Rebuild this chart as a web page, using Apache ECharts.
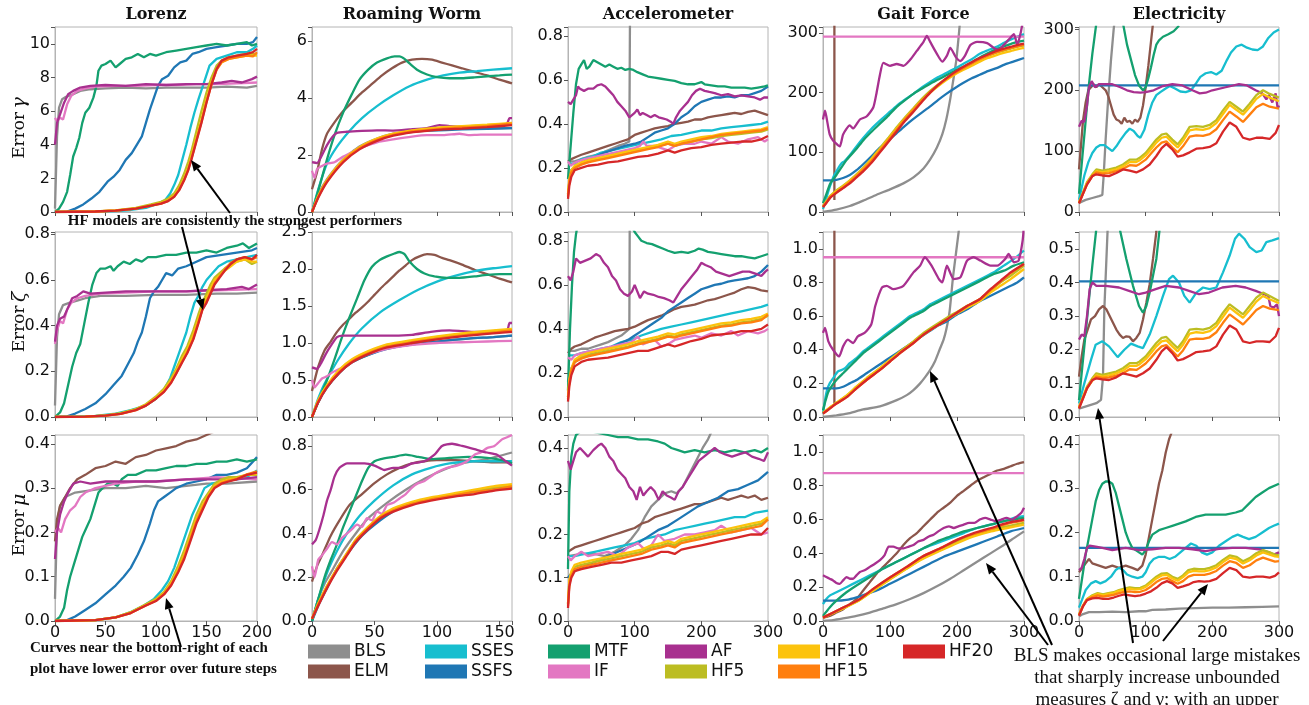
<!DOCTYPE html>
<html>
<head>
<meta charset="utf-8">
<title>Error over future steps</title>
<script src="https://cdn.jsdelivr.net/npm/echarts@6.0.0/dist/echarts.min.js"></script>
<style>
html, body { margin: 0; padding: 0; background: #fff; }
#chart { width: 1309px; height: 705px; }
</style>
</head>
<body>
<div id="chart"></div>
<script>
var models = ['BLS', 'ELM', 'SSES', 'SSFS', 'MTF', 'IF', 'AF', 'HF5', 'HF10', 'HF15', 'HF20'];
var modelColors = ['#8e8e8e', '#8c564b', '#17becf', '#1f77b4', '#14a06f', '#e377c2', '#a8308f', '#bcbd22', '#fcc30d', '#ff7f0e', '#d62728'];
var datasetNames = ['Lorenz', 'Roaming Worm', 'Accelerometer', 'Gait Force', 'Electricity'];
var measureNames = ['γ', 'ζ', 'μ'];
var xMax = [200, 160, 300, 300, 300];
var xStep = [50, 50, 100, 100, 100];
var yMax = [[11, 6.5, 0.84, 310, 304], [0.81, 2.5, 0.84, 1.1, 0.55], [0.42, 0.85, 0.43, 1.1, 0.42]];
var yStep = [[2, 2, 0.2, 100, 100], [0.2, 0.5, 0.2, 0.2, 0.1], [0.1, 0.2, 0.1, 0.2, 0.1]];
var yDigits = [[0, 0, 1, 0, 0], [1, 1, 1, 1, 1], [1, 1, 1, 1, 1]];

// ---------- Lorenz ----------
var lorenzGamma = {
  BLS: [[0,0.2],[2,4.5],[4,6.2],[7,6.7],[11,6.85],[18,7.0],[25,7.2],[35,7.3],[50,7.35],[70,7.4],[90,7.35],[110,7.4],[130,7.4],[150,7.4],[170,7.45],[190,7.4],[200,7.5]],
  SSES: [[0,0],[40,0.02],[60,0.06],[75,0.12],[90,0.25],[100,0.45],[109,0.7],[114,1.1],[118,1.6],[122,2.2],[126,3.1],[130,4.0],[134,5.0],[138,5.9],[142,6.7],[147,7.6],[153,8.7],[160,9.1],[170,9.3],[180,9.5],[190,9.5],[196,9.7],[200,9.9]],
  SSFS: [[0,0],[12,0.02],[20,0.2],[28,0.45],[36,0.8],[44,1.2],[52,1.8],[58,2.1],[64,2.5],[70,3.1],[76,3.5],[82,4.1],[86,4.5],[90,5.3],[94,6.1],[98,6.8],[102,7.5],[106,7.9],[112,8.1],[118,8.6],[124,8.9],[130,9.0],[136,9.4],[142,9.5],[150,9.7],[160,9.8],[170,9.9],[180,10.0],[190,10.0],[196,10.1],[200,10.4]],
  MTF: [[0,0],[4,0.2],[8,0.6],[12,1.2],[15,2.2],[18,3.3],[21,3.8],[24,4.4],[27,5.3],[30,5.9],[34,6.2],[38,6.8],[41,7.5],[43,8.4],[46,8.7],[50,8.8],[55,9.0],[60,8.6],[64,8.8],[70,9.1],[76,9.2],[82,9.4],[88,9.2],[94,9.4],[100,9.3],[110,9.5],[120,9.6],[130,9.7],[140,9.8],[150,9.9],[160,10.0],[170,9.9],[180,10.0],[190,10.1],[195,9.9],[200,10.0]],
  IF: [[0,5.6],[2,5.4],[5,5.6],[8,5.5],[12,6.4],[16,6.9],[22,7.2],[30,7.35],[40,7.45],[60,7.5],[80,7.5],[100,7.55],[120,7.55],[140,7.6],[160,7.6],[180,7.65],[200,7.7]],
  AF: [[0,4.0],[2,5.3],[5,5.8],[9,6.5],[13,7.0],[18,7.2],[25,7.4],[35,7.5],[50,7.55],[70,7.5],[90,7.6],[110,7.55],[130,7.6],[150,7.6],[165,7.7],[175,7.8],[185,7.7],[195,7.9],[200,8.05]],
  HF5: [[0,0],[40,0.04],[60,0.1],[80,0.24],[95,0.45],[105,0.6],[112,0.8],[118,1.1],[123,1.6],[128,2.3],[132,3.0],[135,3.6],[140,4.8],[145,6.0],[150,7.1],[155,8.0],[160,8.7],[165,9.0],[172,9.2],[180,9.3],[190,9.4],[200,9.4]],
  HF10: [[0,0],[40,0.03],[60,0.09],[80,0.21],[95,0.4],[105,0.53],[112,0.7],[118,0.97],[123,1.4],[128,2.0],[132,2.65],[135,3.3],[140,4.4],[145,5.5],[150,6.7],[155,7.7],[160,8.5],[165,8.9],[172,9.1],[180,9.2],[190,9.3],[200,9.3]],
  HF15: [[0,0],[40,0.03],[60,0.08],[80,0.2],[95,0.38],[105,0.5],[112,0.66],[118,0.92],[123,1.33],[128,1.93],[132,2.55],[135,3.15],[140,4.25],[145,5.35],[150,6.55],[155,7.6],[160,8.45],[165,8.9],[172,9.1],[180,9.2],[190,9.3],[196,9.25],[200,9.5]],
  HF20: [[0,0],[40,0.03],[60,0.08],[80,0.2],[95,0.38],[105,0.5],[112,0.65],[118,0.9],[123,1.3],[128,1.9],[132,2.5],[135,3.1],[140,4.2],[145,5.3],[150,6.5],[155,7.6],[160,8.5],[165,9.0],[172,9.2],[180,9.3],[190,9.4],[196,9.5],[200,9.7]]
};
var lorenzZeta = {
  BLS: [[0,0.05],[2,0.35],[4,0.45],[8,0.49],[14,0.5],[22,0.51],[30,0.52],[45,0.53],[70,0.53],[100,0.535],[130,0.535],[160,0.54],[180,0.54],[200,0.545]],
  SSES: [[0,0],[40,0.005],[60,0.015],[75,0.03],[90,0.05],[100,0.08],[108,0.12],[114,0.17],[118,0.22],[122,0.27],[126,0.32],[130,0.37],[134,0.44],[138,0.5],[142,0.53],[146,0.57],[150,0.6],[156,0.63],[162,0.66],[170,0.68],[180,0.69],[190,0.7],[200,0.71]],
  SSFS: [[0,0],[12,0.003],[20,0.015],[30,0.035],[40,0.06],[50,0.1],[58,0.14],[66,0.18],[72,0.23],[78,0.28],[82,0.33],[86,0.37],[90,0.44],[94,0.52],[98,0.55],[102,0.57],[106,0.6],[110,0.63],[116,0.62],[122,0.65],[130,0.66],[140,0.68],[150,0.7],[165,0.71],[180,0.72],[195,0.73],[200,0.74]],
  MTF: [[0,0],[5,0.02],[9,0.06],[13,0.14],[17,0.22],[21,0.28],[25,0.32],[29,0.41],[33,0.5],[37,0.58],[41,0.63],[45,0.65],[50,0.65],[55,0.66],[58,0.64],[62,0.66],[68,0.68],[74,0.67],[80,0.69],[86,0.68],[92,0.7],[100,0.7],[110,0.71],[120,0.71],[130,0.72],[140,0.72],[150,0.73],[160,0.72],[170,0.74],[180,0.75],[186,0.76],[192,0.74],[200,0.76]],
  IF: [[0,0.32],[2,0.38],[5,0.42],[8,0.41],[12,0.47],[16,0.5],[22,0.52],[30,0.53],[45,0.54],[70,0.545],[100,0.55],[130,0.55],[160,0.555],[200,0.56]],
  AF: [[0,0.33],[2,0.4],[5,0.43],[9,0.44],[13,0.48],[17,0.52],[22,0.53],[28,0.55],[35,0.54],[50,0.545],[70,0.55],[100,0.55],[130,0.55],[150,0.555],[170,0.56],[185,0.57],[192,0.56],[200,0.58]],
  HF5: [[0,0],[30,0.002],[50,0.007],[65,0.017],[80,0.035],[90,0.056],[100,0.09],[108,0.125],[115,0.17],[120,0.21],[126,0.27],[131,0.31],[137,0.38],[142,0.45],[146,0.5],[150,0.54],[154,0.58],[158,0.61],[163,0.63],[168,0.65],[174,0.67],[180,0.68],[188,0.69],[195,0.67],[200,0.68]],
  HF10: [[0,0],[30,0.002],[50,0.006],[65,0.015],[80,0.032],[90,0.053],[100,0.085],[108,0.117],[115,0.16],[120,0.2],[126,0.255],[131,0.295],[137,0.36],[142,0.43],[146,0.48],[150,0.52],[154,0.56],[158,0.6],[163,0.62],[168,0.64],[174,0.66],[180,0.68],[188,0.69],[195,0.68],[200,0.68]],
  HF15: [[0,0],[30,0.002],[50,0.006],[65,0.014],[80,0.03],[90,0.05],[100,0.081],[108,0.112],[115,0.152],[120,0.192],[126,0.243],[131,0.283],[137,0.345],[142,0.415],[146,0.472],[150,0.505],[154,0.545],[158,0.585],[163,0.615],[168,0.645],[174,0.675],[180,0.69],[188,0.7],[195,0.69],[200,0.7]],
  HF20: [[0,0],[30,0.002],[50,0.006],[65,0.014],[80,0.03],[90,0.05],[100,0.08],[108,0.11],[115,0.15],[120,0.19],[126,0.24],[131,0.28],[137,0.34],[142,0.41],[146,0.47],[150,0.5],[154,0.54],[158,0.58],[163,0.61],[168,0.64],[174,0.67],[180,0.69],[188,0.7],[195,0.69],[200,0.71]]
};
var lorenzMu = {
  BLS: [[0,0.05],[2,0.22],[5,0.26],[10,0.28],[20,0.29],[35,0.295],[50,0.3],[70,0.3],[90,0.305],[110,0.3],[130,0.305],[150,0.31],[170,0.31],[200,0.315]],
  ELM: [[0,0.18],[2,0.23],[5,0.26],[10,0.28],[15,0.3],[22,0.32],[30,0.33],[40,0.345],[50,0.35],[60,0.36],[70,0.355],[80,0.37],[90,0.375],[100,0.385],[110,0.39],[120,0.395],[130,0.405],[140,0.41],[150,0.42],[160,0.43]],
  SSES: [[0,0],[40,0.002],[60,0.008],[75,0.02],[88,0.035],[98,0.05],[106,0.07],[112,0.09],[118,0.12],[124,0.16],[130,0.2],[136,0.24],[142,0.27],[148,0.3],[155,0.31],[165,0.315],[180,0.32],[190,0.325],[200,0.34]],
  SSFS: [[0,0],[12,0.002],[20,0.01],[30,0.025],[40,0.04],[50,0.06],[60,0.08],[68,0.1],[75,0.12],[82,0.15],[88,0.18],[94,0.22],[98,0.25],[102,0.27],[108,0.28],[114,0.29],[120,0.3],[130,0.31],[140,0.315],[150,0.32],[160,0.33],[170,0.33],[180,0.335],[190,0.345],[200,0.37]],
  MTF: [[0,0],[5,0.01],[9,0.03],[12,0.07],[15,0.1],[19,0.13],[23,0.16],[27,0.19],[31,0.21],[35,0.23],[39,0.26],[43,0.29],[47,0.3],[52,0.31],[58,0.31],[62,0.305],[66,0.32],[72,0.33],[80,0.33],[90,0.34],[100,0.34],[110,0.345],[120,0.35],[130,0.35],[140,0.355],[150,0.355],[160,0.36],[170,0.36],[180,0.365],[190,0.36],[200,0.365]],
  IF: [[0,0.2],[3,0.21],[6,0.2],[10,0.23],[15,0.25],[20,0.26],[25,0.28],[30,0.29],[40,0.3],[60,0.31],[80,0.315],[100,0.315],[130,0.32],[160,0.325],[200,0.32]],
  AF: [[0,0.14],[2,0.2],[5,0.24],[9,0.27],[13,0.29],[18,0.31],[25,0.315],[35,0.31],[50,0.315],[70,0.315],[100,0.315],[130,0.32],[160,0.32],[180,0.32],[200,0.325]],
  HF5: [[0,0],[40,0.002],[60,0.008],[75,0.02],[90,0.038],[100,0.05],[108,0.066],[115,0.09],[122,0.125],[128,0.16],[134,0.2],[140,0.24],[146,0.27],[152,0.29],[158,0.31],[165,0.32],[172,0.325],[180,0.325],[190,0.33],[200,0.33]],
  HF10: [[0,0],[40,0.002],[60,0.008],[75,0.019],[90,0.036],[100,0.047],[108,0.063],[115,0.085],[122,0.117],[128,0.15],[134,0.19],[140,0.23],[146,0.26],[152,0.285],[158,0.305],[165,0.315],[172,0.32],[180,0.322],[190,0.33],[200,0.332]],
  HF15: [[0,0],[40,0.002],[60,0.008],[75,0.018],[90,0.035],[100,0.046],[108,0.061],[115,0.082],[122,0.113],[128,0.145],[134,0.185],[140,0.225],[146,0.255],[152,0.282],[158,0.302],[165,0.312],[172,0.317],[180,0.321],[190,0.331],[200,0.338]],
  HF20: [[0,0],[40,0.002],[60,0.008],[75,0.018],[90,0.035],[100,0.045],[108,0.06],[115,0.08],[122,0.11],[128,0.14],[134,0.18],[140,0.22],[146,0.25],[152,0.28],[158,0.3],[165,0.31],[172,0.315],[180,0.32],[190,0.33],[200,0.335]]
};

// ---------- Roaming Worm ----------
var wormGamma = {
  BLS: [[0,0],[5,0.6],[12,1.15],[25,1.85],[38,2.3],[52,2.58],[65,2.75],[80,2.85],[95,2.9],[120,2.95],[140,2.95],[160,2.95]],
  ELM: [[0,0.8],[4,1.4],[8,2.2],[12,2.75],[18,3.15],[25,3.55],[32,3.85],[40,4.2],[48,4.5],[56,4.8],[64,5.05],[72,5.25],[80,5.35],[88,5.38],[96,5.35],[104,5.25],[112,5.15],[120,5.05],[130,4.92],[140,4.8],[150,4.65],[160,4.52]],
  SSES: [[0,0],[5,0.8],[12,1.7],[20,2.3],[30,2.85],[40,3.3],[52,3.72],[65,4.1],[78,4.42],[92,4.65],[105,4.8],[118,4.9],[132,4.95],[145,5.0],[160,5.05]],
  SSFS: [[0,0],[5,0.55],[12,1.1],[25,1.8],[38,2.25],[52,2.55],[65,2.72],[80,2.82],[95,2.86],[120,2.9],[140,2.92],[160,2.95]],
  MTF: [[0,0],[6,0.9],[12,1.85],[18,2.7],[25,3.5],[32,4.15],[38,4.65],[45,5.0],[52,5.25],[60,5.4],[66,5.47],[70,5.47],[74,5.38],[78,5.22],[84,5.0],[92,4.83],[100,4.74],[110,4.7],[120,4.7],[130,4.73],[140,4.77],[150,4.8],[160,4.83]],
  IF: [[0,1.45],[2,1.2],[4,1.5],[8,1.62],[12,1.7],[18,1.75],[25,1.95],[32,2.1],[38,2.25],[45,2.35],[52,2.45],[65,2.55],[80,2.65],[92,2.7],[105,2.7],[118,2.75],[125,2.7],[135,2.72],[145,2.72],[160,2.72]],
  AF: [[0,1.75],[4,1.72],[8,2.0],[12,2.35],[16,2.62],[20,2.78],[28,2.82],[40,2.85],[52,2.87],[65,2.86],[78,2.9],[92,2.95],[102,3.05],[110,3.02],[120,3.0],[130,3.0],[140,3.05],[150,3.05],[156,3.1],[158,3.3],[160,3.3]],
  HF5: [[0,0],[5,0.55],[12,1.1],[25,1.81],[38,2.26],[52,2.56],[65,2.73],[80,2.85],[92,2.91],[105,2.96],[120,3.0],[140,3.05],[160,3.1]],
  HF10: [[0,0],[5,0.56],[12,1.12],[25,1.83],[38,2.28],[52,2.58],[65,2.75],[80,2.87],[92,2.93],[105,2.98],[120,3.02],[140,3.07],[160,3.13]],
  HF15: [[0,0],[5,0.53],[12,1.08],[25,1.79],[38,2.24],[52,2.54],[65,2.71],[80,2.83],[92,2.88],[105,2.93],[120,2.97],[140,3.02],[160,3.1]],
  HF20: [[0,0],[5,0.5],[12,1.05],[25,1.75],[38,2.2],[52,2.5],[65,2.68],[80,2.8],[92,2.85],[105,2.9],[120,2.93],[140,2.98],[160,3.05]]
};
var wormZeta = {
  BLS: [[0,0],[5,0.2],[12,0.4],[22,0.6],[32,0.74],[45,0.84],[60,0.93],[80,0.98],[100,1.02],[125,1.06],[145,1.08],[160,1.1]],
  ELM: [[0,0.35],[5,0.68],[10,0.9],[15,1.02],[20,1.15],[25,1.25],[30,1.33],[35,1.41],[40,1.48],[45,1.56],[50,1.65],[55,1.74],[60,1.82],[65,1.9],[70,1.98],[75,2.05],[80,2.12],[86,2.17],[92,2.2],[98,2.19],[104,2.15],[110,2.12],[120,2.06],[130,1.99],[140,1.93],[150,1.87],[160,1.82]],
  SSES: [[0,0],[5,0.25],[10,0.45],[20,0.75],[30,1.0],[40,1.2],[55,1.42],[70,1.58],[85,1.72],[100,1.83],[115,1.91],[130,1.97],[145,2.01],[160,2.04]],
  SSFS: [[0,0],[5,0.2],[12,0.4],[22,0.6],[32,0.74],[45,0.84],[60,0.92],[80,0.98],[100,1.02],[125,1.06],[145,1.08],[160,1.1]],
  MTF: [[0,0],[6,0.25],[12,0.5],[18,0.78],[24,1.08],[30,1.35],[36,1.6],[42,1.85],[48,2.03],[54,2.12],[60,2.17],[66,2.21],[70,2.23],[74,2.2],[78,2.1],[84,2.0],[90,1.94],[98,1.9],[108,1.88],[118,1.88],[130,1.9],[140,1.92],[150,1.93],[160,1.93]],
  IF: [[0,0.5],[2,0.4],[5,0.46],[8,0.52],[12,0.55],[16,0.6],[22,0.65],[30,0.72],[35,0.78],[40,0.82],[55,0.9],[70,0.95],[85,0.98],[100,1.0],[120,1.01],[140,1.02],[160,1.03]],
  AF: [[0,0.67],[4,0.65],[7,0.72],[11,0.85],[15,0.96],[20,1.08],[25,1.1],[35,1.1],[50,1.1],[65,1.1],[80,1.11],[95,1.15],[110,1.17],[120,1.16],[130,1.15],[140,1.15],[150,1.16],[156,1.16],[158,1.27],[160,1.27]],
  HF5: [[0,0],[5,0.22],[12,0.42],[22,0.63],[32,0.77],[45,0.88],[60,0.97],[80,1.03],[100,1.08],[125,1.13],[145,1.16],[160,1.18]],
  HF10: [[0,0],[5,0.23],[12,0.43],[22,0.64],[32,0.78],[45,0.89],[60,0.98],[80,1.04],[100,1.09],[125,1.14],[145,1.17],[160,1.19]],
  HF15: [[0,0],[5,0.21],[12,0.41],[22,0.61],[32,0.75],[45,0.86],[60,0.95],[80,1.01],[100,1.06],[125,1.11],[145,1.14],[160,1.17]],
  HF20: [[0,0],[5,0.2],[12,0.4],[22,0.6],[32,0.74],[45,0.85],[60,0.94],[80,1.0],[100,1.05],[125,1.1],[145,1.13],[160,1.15]]
};
var wormMu = {
  BLS: [[0,0],[5,0.1],[10,0.17],[15,0.22],[25,0.32],[35,0.4],[45,0.47],[60,0.54],[75,0.6],[90,0.65],[105,0.69],[120,0.72],[140,0.74],[160,0.77]],
  ELM: [[0,0.18],[4,0.25],[8,0.3],[15,0.39],[22,0.46],[30,0.53],[40,0.58],[50,0.63],[60,0.67],[70,0.7],[80,0.72],[90,0.73],[100,0.735],[115,0.735],[130,0.73],[145,0.725],[160,0.725]],
  SSES: [[0,0],[5,0.1],[12,0.22],[20,0.32],[28,0.4],[38,0.48],[50,0.55],[65,0.62],[80,0.67],[95,0.7],[110,0.72],[130,0.73],[145,0.73],[160,0.73]],
  SSFS: [[0,0],[5,0.07],[12,0.15],[20,0.24],[30,0.32],[40,0.39],[50,0.44],[65,0.5],[80,0.54],[100,0.565],[120,0.58],[140,0.6],[160,0.61]],
  MTF: [[0,0],[5,0.1],[10,0.2],[15,0.28],[20,0.35],[25,0.43],[30,0.5],[35,0.57],[40,0.64],[45,0.7],[50,0.73],[55,0.74],[65,0.75],[75,0.76],[85,0.75],[95,0.74],[110,0.745],[125,0.75],[140,0.745],[152,0.735],[160,0.72]],
  IF: [[0,0.25],[2,0.2],[5,0.28],[8,0.3],[12,0.33],[16,0.36],[20,0.35],[24,0.38],[28,0.4],[32,0.42],[36,0.44],[40,0.43],[44,0.47],[48,0.46],[52,0.5],[56,0.49],[60,0.53],[65,0.54],[70,0.56],[75,0.58],[80,0.61],[85,0.63],[90,0.64],[95,0.66],[100,0.68],[108,0.7],[116,0.71],[124,0.73],[130,0.76],[135,0.77],[140,0.79],[146,0.8],[152,0.83],[156,0.84],[160,0.85]],
  AF: [[0,0.35],[3,0.37],[6,0.42],[9,0.48],[12,0.55],[15,0.6],[18,0.66],[22,0.7],[28,0.72],[35,0.72],[42,0.72],[50,0.71],[58,0.69],[65,0.7],[72,0.7],[80,0.72],[90,0.73],[98,0.76],[104,0.8],[112,0.81],[120,0.8],[130,0.785],[140,0.77],[148,0.76],[155,0.73],[160,0.71]],
  HF5: [[0,0.01],[5,0.08],[12,0.16],[20,0.24],[28,0.31],[35,0.37],[45,0.43],[55,0.48],[65,0.51],[80,0.54],[95,0.56],[115,0.58],[130,0.59],[145,0.61],[160,0.62]],
  HF10: [[0,0.01],[5,0.08],[12,0.16],[20,0.24],[28,0.31],[35,0.37],[45,0.43],[55,0.48],[65,0.515],[80,0.545],[95,0.565],[115,0.585],[130,0.6],[145,0.615],[160,0.625]],
  HF15: [[0,0.01],[5,0.075],[12,0.155],[20,0.235],[28,0.305],[35,0.365],[45,0.425],[55,0.475],[65,0.505],[80,0.535],[95,0.555],[115,0.575],[130,0.59],[145,0.6],[160,0.615]],
  HF20: [[0,0.01],[5,0.07],[12,0.15],[20,0.23],[28,0.3],[35,0.36],[45,0.42],[55,0.47],[65,0.5],[80,0.53],[95,0.55],[115,0.57],[130,0.58],[145,0.595],[160,0.605]]
};

// ---------- Accelerometer ----------
var accelGamma = {
  BLS: [[0,0.23],[10,0.23],[20,0.24],[30,0.25],[45,0.26],[60,0.28],[75,0.3],[85,0.31],[92,0.32],[93,0.9]],
  ELM: [[0,0.23],[5,0.24],[12,0.25],[20,0.26],[30,0.27],[40,0.28],[50,0.29],[60,0.3],[70,0.31],[80,0.32],[90,0.33],[100,0.35],[110,0.36],[120,0.37],[130,0.38],[140,0.385],[150,0.39],[160,0.4],[170,0.405],[180,0.41],[190,0.42],[200,0.42],[210,0.43],[220,0.435],[230,0.44],[240,0.445],[250,0.45],[260,0.445],[270,0.455],[280,0.46],[290,0.45],[300,0.44]],
  SSES: [[0,0.22],[10,0.22],[20,0.24],[35,0.25],[50,0.27],[65,0.28],[80,0.29],[95,0.3],[110,0.31],[125,0.32],[140,0.33],[155,0.345],[170,0.35],[185,0.36],[200,0.37],[215,0.37],[230,0.38],[245,0.385],[260,0.39],[275,0.395],[290,0.4],[300,0.41]],
  SSFS: [[0,0.15],[5,0.19],[12,0.21],[25,0.23],[40,0.25],[55,0.27],[70,0.285],[85,0.3],[100,0.31],[110,0.32],[120,0.34],[130,0.36],[140,0.37],[150,0.38],[160,0.4],[170,0.43],[180,0.45],[190,0.48],[200,0.5],[210,0.51],[220,0.52],[230,0.52],[240,0.525],[250,0.52],[260,0.53],[270,0.53],[280,0.54],[290,0.55],[300,0.57]],
  MTF: [[0,0.15],[4,0.3],[8,0.45],[12,0.58],[16,0.65],[20,0.67],[24,0.69],[28,0.65],[32,0.66],[38,0.69],[44,0.68],[50,0.67],[56,0.66],[62,0.67],[68,0.66],[74,0.65],[80,0.655],[86,0.645],[92,0.65],[98,0.645],[104,0.635],[112,0.625],[120,0.615],[130,0.61],[140,0.605],[150,0.6],[160,0.595],[170,0.585],[180,0.58],[190,0.58],[200,0.59],[205,0.58],[215,0.575],[225,0.57],[235,0.57],[245,0.565],[255,0.565],[265,0.565],[275,0.56],[285,0.565],[295,0.57],[300,0.575]],
  IF: [[0,0.23],[4,0.21],[8,0.22],[15,0.23],[25,0.24],[40,0.25],[55,0.26],[70,0.27],[85,0.28],[100,0.29],[108,0.3],[113,0.32],[118,0.3],[130,0.3],[140,0.29],[150,0.28],[160,0.3],[175,0.31],[190,0.31],[200,0.32],[215,0.31],[230,0.34],[240,0.32],[255,0.31],[270,0.33],[285,0.34],[295,0.32],[300,0.33]],
  AF: [[0,0.5],[4,0.49],[8,0.51],[12,0.53],[15,0.57],[18,0.56],[24,0.55],[30,0.56],[38,0.56],[44,0.575],[50,0.58],[56,0.57],[62,0.55],[68,0.53],[74,0.5],[80,0.48],[86,0.46],[92,0.43],[96,0.44],[100,0.45],[104,0.465],[108,0.44],[112,0.45],[118,0.44],[124,0.43],[130,0.44],[136,0.43],[142,0.425],[148,0.42],[154,0.41],[158,0.4],[162,0.43],[168,0.46],[174,0.48],[180,0.5],[186,0.53],[192,0.55],[198,0.56],[205,0.55],[212,0.545],[220,0.54],[230,0.53],[240,0.535],[250,0.525],[260,0.53],[270,0.525],[280,0.52],[288,0.51],[294,0.52],[300,0.52]],
  HF5: [[0,0.08],[2,0.14],[5,0.18],[10,0.2],[20,0.22],[30,0.23],[45,0.24],[60,0.25],[75,0.26],[90,0.27],[105,0.28],[120,0.29],[135,0.3],[150,0.31],[160,0.3],[170,0.31],[185,0.32],[200,0.33],[215,0.335],[230,0.345],[245,0.35],[260,0.355],[275,0.36],[290,0.365],[300,0.375]],
  HF10: [[0,0.08],[2,0.15],[5,0.19],[10,0.21],[20,0.225],[30,0.235],[45,0.245],[60,0.255],[75,0.265],[90,0.275],[105,0.285],[120,0.295],[135,0.305],[150,0.32],[160,0.31],[170,0.32],[185,0.33],[200,0.34],[215,0.345],[230,0.355],[245,0.36],[260,0.365],[275,0.37],[290,0.375],[300,0.385]],
  HF15: [[0,0.07],[2,0.14],[5,0.18],[10,0.2],[20,0.215],[30,0.225],[45,0.235],[60,0.245],[75,0.255],[90,0.265],[105,0.275],[120,0.285],[135,0.295],[150,0.31],[160,0.3],[170,0.31],[185,0.32],[200,0.33],[215,0.34],[230,0.35],[245,0.355],[260,0.36],[275,0.365],[290,0.37],[300,0.38]],
  HF20: [[0,0.06],[2,0.12],[5,0.16],[10,0.19],[20,0.2],[30,0.21],[45,0.215],[60,0.225],[75,0.23],[90,0.24],[105,0.25],[120,0.255],[135,0.265],[150,0.28],[160,0.27],[170,0.28],[185,0.29],[200,0.295],[215,0.305],[230,0.31],[245,0.315],[260,0.32],[275,0.32],[290,0.33],[300,0.345]]
};
var accelZeta = {
  BLS: [[0,0.3],[10,0.3],[20,0.31],[30,0.31],[40,0.32],[50,0.33],[60,0.34],[70,0.355],[80,0.37],[88,0.39],[92,0.4],[93,1.2]],
  ELM: [[0,0.29],[5,0.31],[10,0.32],[20,0.33],[30,0.345],[40,0.36],[50,0.37],[60,0.38],[70,0.39],[80,0.395],[90,0.4],[100,0.41],[110,0.425],[120,0.44],[130,0.45],[140,0.46],[150,0.475],[160,0.49],[170,0.5],[180,0.505],[190,0.51],[200,0.52],[210,0.53],[220,0.535],[230,0.545],[240,0.555],[250,0.565],[260,0.58],[270,0.59],[280,0.585],[290,0.575],[300,0.57]],
  SSES: [[0,0.28],[10,0.28],[20,0.29],[35,0.3],[50,0.31],[65,0.32],[80,0.34],[95,0.35],[110,0.37],[125,0.385],[140,0.4],[155,0.41],[170,0.42],[185,0.43],[200,0.44],[215,0.45],[230,0.46],[245,0.47],[260,0.48],[275,0.49],[290,0.5],[300,0.51]],
  SSFS: [[0,0.16],[5,0.22],[10,0.25],[20,0.27],[30,0.28],[45,0.3],[60,0.31],[75,0.33],[90,0.35],[100,0.37],[110,0.39],[120,0.41],[130,0.43],[140,0.45],[150,0.48],[160,0.5],[170,0.52],[180,0.54],[190,0.56],[200,0.58],[210,0.59],[220,0.6],[230,0.605],[240,0.615],[250,0.62],[260,0.625],[270,0.63],[280,0.64],[290,0.66],[300,0.69]],
  MTF: [[0,0.12],[3,0.4],[6,0.6],[9,0.75],[12,0.83],[15,0.88],[30,0.92],[60,0.93],[90,0.9],[100,0.84],[105,0.82],[110,0.8],[118,0.79],[126,0.785],[134,0.775],[142,0.765],[150,0.755],[160,0.745],[170,0.75],[180,0.745],[190,0.755],[196,0.765],[202,0.76],[210,0.75],[220,0.745],[230,0.74],[240,0.735],[250,0.73],[260,0.73],[270,0.725],[280,0.72],[290,0.73],[300,0.74]],
  IF: [[0,0.27],[5,0.26],[10,0.28],[20,0.29],[35,0.3],[50,0.31],[65,0.32],[80,0.33],[95,0.34],[105,0.365],[112,0.33],[120,0.34],[130,0.35],[140,0.32],[150,0.33],[160,0.35],[175,0.36],[190,0.37],[200,0.36],[215,0.38],[230,0.37],[245,0.39],[255,0.37],[270,0.39],[285,0.38],[295,0.39],[300,0.4]],
  AF: [[0,0.64],[4,0.62],[8,0.66],[12,0.72],[18,0.7],[26,0.71],[34,0.72],[42,0.74],[48,0.73],[54,0.7],[60,0.68],[66,0.64],[72,0.62],[78,0.58],[84,0.56],[90,0.55],[96,0.57],[100,0.6],[104,0.57],[108,0.54],[114,0.57],[120,0.56],[128,0.555],[136,0.545],[144,0.54],[152,0.53],[158,0.52],[164,0.55],[170,0.58],[178,0.61],[186,0.64],[194,0.67],[200,0.7],[206,0.69],[214,0.68],[222,0.66],[232,0.65],[242,0.64],[252,0.65],[262,0.66],[272,0.66],[282,0.65],[290,0.64],[296,0.66],[300,0.67]],
  HF5: [[0,0.09],[2,0.16],[5,0.21],[10,0.25],[20,0.27],[30,0.28],[45,0.29],[60,0.3],[75,0.31],[90,0.32],[105,0.335],[120,0.345],[135,0.355],[150,0.37],[160,0.365],[170,0.375],[185,0.385],[200,0.395],[215,0.405],[230,0.415],[245,0.42],[260,0.43],[275,0.435],[290,0.445],[300,0.46]],
  HF10: [[0,0.09],[2,0.17],[5,0.22],[10,0.26],[20,0.28],[30,0.29],[45,0.3],[60,0.31],[75,0.32],[90,0.33],[105,0.345],[120,0.355],[135,0.365],[150,0.38],[160,0.375],[170,0.385],[185,0.395],[200,0.405],[215,0.415],[230,0.425],[245,0.43],[260,0.44],[275,0.445],[290,0.455],[300,0.47]],
  HF15: [[0,0.08],[2,0.16],[5,0.21],[10,0.25],[20,0.265],[30,0.275],[45,0.285],[60,0.295],[75,0.305],[90,0.315],[105,0.33],[120,0.34],[135,0.35],[150,0.365],[160,0.36],[170,0.37],[185,0.38],[200,0.39],[215,0.4],[230,0.41],[245,0.415],[260,0.425],[275,0.43],[290,0.44],[300,0.465]],
  HF20: [[0,0.07],[2,0.14],[5,0.19],[10,0.23],[20,0.25],[30,0.26],[45,0.265],[60,0.27],[75,0.28],[90,0.29],[105,0.3],[120,0.3],[135,0.315],[150,0.33],[160,0.32],[170,0.33],[185,0.345],[200,0.355],[215,0.37],[230,0.375],[245,0.38],[260,0.39],[275,0.39],[290,0.4],[300,0.42]]
};
var accelMu = {
  BLS: [[0,0.15],[20,0.155],[40,0.155],[55,0.15],[70,0.16],[85,0.175],[95,0.19],[105,0.21],[115,0.24],[125,0.265],[135,0.28],[145,0.295],[155,0.3],[163,0.295],[172,0.31],[182,0.34],[192,0.37],[202,0.4],[210,0.42],[216,0.44]],
  ELM: [[0,0.16],[10,0.17],[20,0.175],[30,0.18],[40,0.185],[50,0.19],[60,0.195],[70,0.2],[80,0.205],[90,0.21],[100,0.215],[110,0.225],[120,0.23],[130,0.24],[140,0.245],[150,0.25],[160,0.255],[170,0.26],[180,0.265],[190,0.27],[200,0.27],[210,0.275],[220,0.28],[230,0.285],[240,0.28],[250,0.285],[260,0.29],[270,0.285],[280,0.29],[290,0.28],[300,0.285]],
  SSES: [[0,0.15],[10,0.15],[25,0.155],[40,0.16],[55,0.165],[70,0.17],[85,0.175],[100,0.18],[115,0.19],[130,0.195],[145,0.2],[160,0.21],[175,0.215],[190,0.22],[205,0.225],[220,0.23],[235,0.235],[250,0.24],[265,0.24],[280,0.25],[300,0.255]],
  SSFS: [[0,0.1],[5,0.11],[15,0.12],[30,0.13],[45,0.14],[60,0.15],[75,0.16],[90,0.17],[105,0.18],[120,0.195],[135,0.21],[150,0.22],[165,0.235],[180,0.25],[195,0.265],[210,0.275],[225,0.285],[240,0.3],[255,0.305],[270,0.315],[285,0.325],[300,0.345]],
  MTF: [[0,0.12],[2,0.3],[5,0.38],[8,0.41],[12,0.43],[20,0.44],[30,0.44],[45,0.435],[60,0.43],[75,0.425],[90,0.425],[105,0.42],[120,0.42],[135,0.415],[145,0.41],[155,0.4],[165,0.395],[175,0.39],[190,0.395],[205,0.39],[220,0.395],[235,0.39],[250,0.395],[265,0.39],[280,0.395],[290,0.39],[300,0.4]],
  IF: [[0,0.15],[4,0.14],[10,0.15],[20,0.16],[30,0.15],[45,0.155],[60,0.16],[75,0.15],[90,0.17],[105,0.18],[115,0.165],[125,0.175],[135,0.2],[145,0.185],[160,0.19],[175,0.2],[190,0.2],[205,0.205],[220,0.21],[230,0.22],[245,0.205],[260,0.21],[275,0.215],[290,0.2],[300,0.205]],
  AF: [[0,0.37],[4,0.35],[8,0.37],[12,0.39],[18,0.4],[24,0.39],[30,0.38],[38,0.395],[45,0.405],[50,0.41],[56,0.4],[62,0.38],[68,0.37],[74,0.35],[80,0.34],[86,0.33],[92,0.31],[98,0.3],[103,0.28],[108,0.31],[113,0.29],[118,0.3],[124,0.31],[130,0.3],[136,0.28],[142,0.3],[148,0.29],[155,0.285],[160,0.28],[166,0.3],[172,0.31],[180,0.33],[188,0.35],[196,0.37],[204,0.38],[212,0.39],[220,0.4],[228,0.39],[236,0.385],[246,0.38],[256,0.385],[266,0.39],[276,0.38],[286,0.375],[294,0.37],[300,0.39]],
  HF5: [[0,0.04],[2,0.09],[5,0.11],[10,0.125],[20,0.13],[35,0.135],[50,0.14],[65,0.145],[80,0.15],[95,0.155],[110,0.16],[125,0.17],[140,0.175],[150,0.18],[160,0.175],[170,0.185],[185,0.19],[200,0.195],[215,0.2],[230,0.205],[245,0.21],[260,0.215],[275,0.22],[290,0.225],[300,0.235]],
  HF10: [[0,0.04],[2,0.095],[5,0.115],[10,0.13],[20,0.135],[35,0.14],[50,0.145],[65,0.15],[80,0.155],[95,0.16],[110,0.165],[125,0.175],[140,0.18],[150,0.185],[160,0.18],[170,0.19],[185,0.195],[200,0.2],[215,0.205],[230,0.21],[245,0.215],[260,0.22],[275,0.225],[290,0.23],[300,0.24]],
  HF15: [[0,0.035],[2,0.085],[5,0.105],[10,0.12],[20,0.125],[35,0.13],[50,0.135],[65,0.14],[80,0.145],[95,0.15],[110,0.155],[125,0.165],[140,0.17],[150,0.175],[160,0.17],[170,0.18],[185,0.185],[200,0.19],[215,0.195],[230,0.2],[245,0.205],[260,0.21],[275,0.215],[290,0.22],[300,0.235]],
  HF20: [[0,0.03],[2,0.08],[5,0.1],[10,0.115],[20,0.12],[35,0.125],[50,0.13],[65,0.135],[80,0.135],[95,0.14],[110,0.145],[125,0.15],[140,0.16],[150,0.16],[160,0.155],[170,0.165],[185,0.17],[200,0.175],[215,0.18],[230,0.185],[245,0.19],[260,0.195],[275,0.2],[290,0.2],[300,0.215]]
};

// ---------- Gait Force ----------
var gaitGamma = {
  BLS: [[0,0],[20,4],[40,10],[60,19],[80,29],[100,38],[120,48],[135,58],[150,73],[160,88],[170,108],[178,130],[184,155],[190,190],[195,225],[199,255],[203,300],[206,340]],
  ELM: [[17,20],[17,400]],
  SSES: [[0,5],[4,20],[8,35],[11,45],[16,60],[22,72],[28,82],[32,85],[40,95],[50,110],[60,124],[72,139],[85,153],[98,166],[110,178],[122,188],[135,198],[148,209],[160,218],[172,226],[184,233],[196,240],[209,248],[222,256],[234,265],[246,271],[259,277],[271,284],[284,291],[300,298]],
  SSFS: [[0,53],[10,53],[20,54],[30,57],[40,62],[50,70],[60,80],[72,93],[85,108],[98,120],[110,132],[122,144],[135,156],[148,167],[160,177],[172,188],[184,198],[196,207],[209,216],[222,224],[234,230],[246,236],[259,241],[271,247],[284,252],[300,258]],
  MTF: [[0,15],[5,30],[11,48],[20,62],[35,87],[50,106],[60,120],[72,134],[85,148],[98,162],[110,176],[122,187],[135,198],[148,207],[160,215],[172,222],[184,229],[196,236],[209,243],[222,251],[234,259],[246,266],[259,273],[271,278],[284,283],[300,287]],
  IF: [[0,294],[100,294],[200,294],[300,294]],
  AF: [[0,155],[3,170],[5,160],[10,130],[15,120],[25,110],[30,130],[40,145],[45,140],[55,155],[65,160],[75,175],[80,200],[85,230],[90,250],[100,245],[110,248],[120,245],[130,255],[140,270],[150,285],[155,295],[160,285],[170,265],[178,252],[185,262],[190,275],[198,260],[205,253],[212,262],[220,280],[230,285],[245,283],[255,275],[262,272],[270,280],[278,290],[285,298],[290,280],[295,300],[300,330]],
  HF5: [[0,10],[5,18],[11,27],[20,36],[30,44],[40,53],[50,63],[60,74],[72,89],[85,107],[98,125],[110,142],[122,158],[135,174],[148,190],[160,203],[172,214],[184,224],[196,233],[209,241],[222,249],[234,256],[246,262],[259,267],[271,271],[284,275],[300,279]],
  HF10: [[0,9],[5,17],[11,26],[20,35],[30,43],[40,52],[50,62],[60,73],[72,88],[85,105],[98,123],[110,140],[122,156],[135,172],[148,187],[160,200],[172,211],[184,221],[196,230],[209,238],[222,245],[234,252],[246,258],[259,263],[271,267],[284,271],[300,275]],
  HF15: [[0,9],[5,16],[11,25],[20,33],[30,41],[40,50],[50,60],[60,71],[72,85],[85,103],[98,121],[110,138],[122,155],[135,171],[148,187],[160,201],[172,213],[184,223],[196,232],[209,241],[222,249],[234,256],[246,262],[259,268],[271,272],[284,276],[300,280]],
  HF20: [[0,8],[5,15],[11,24],[20,32],[30,40],[40,48],[50,58],[60,68],[72,82],[85,100],[98,118],[110,135],[122,152],[135,168],[148,185],[160,200],[172,213],[184,224],[196,234],[209,243],[222,251],[234,258],[246,264],[259,270],[271,274],[284,278],[300,282]]
};
var gaitZeta = {
  BLS: [[0,0],[20,0.01],[36,0.02],[60,0.045],[85,0.063],[110,0.1],[125,0.13],[135,0.16],[145,0.2],[153,0.24],[160,0.28],[167,0.33],[174,0.4],[180,0.46],[184,0.52],[189,0.63],[194,0.83],[199,0.99],[204,1.15]],
  ELM: [[17,0.08],[17,1.5]],
  SSES: [[0,0.02],[3,0.1],[6,0.16],[10,0.2],[15,0.23],[22,0.27],[28,0.28],[33,0.29],[40,0.32],[50,0.35],[60,0.39],[70,0.42],[80,0.45],[90,0.48],[100,0.51],[110,0.54],[120,0.57],[130,0.6],[140,0.62],[150,0.64],[160,0.67],[170,0.69],[180,0.71],[195,0.74],[210,0.77],[225,0.8],[240,0.83],[255,0.86],[270,0.9],[285,0.94],[300,0.99]],
  SSFS: [[0,0.17],[10,0.17],[20,0.17],[30,0.18],[40,0.2],[50,0.22],[65,0.26],[80,0.3],[95,0.34],[110,0.38],[125,0.42],[140,0.46],[155,0.5],[170,0.54],[185,0.57],[200,0.61],[215,0.64],[230,0.68],[245,0.71],[260,0.74],[275,0.77],[290,0.8],[300,0.83]],
  MTF: [[0,0.04],[4,0.1],[8,0.15],[14,0.19],[20,0.22],[30,0.26],[40,0.3],[50,0.34],[60,0.38],[70,0.41],[80,0.44],[90,0.47],[100,0.5],[110,0.53],[120,0.56],[130,0.59],[140,0.61],[150,0.63],[160,0.66],[170,0.68],[180,0.7],[195,0.73],[210,0.76],[225,0.79],[240,0.82],[255,0.85],[270,0.87],[285,0.9],[300,0.92]],
  IF: [[0,0.95],[100,0.95],[200,0.95],[300,0.95]],
  AF: [[0,0.5],[3,0.53],[8,0.45],[15,0.4],[24,0.36],[30,0.42],[37,0.46],[45,0.44],[52,0.48],[62,0.5],[72,0.55],[78,0.66],[88,0.77],[95,0.78],[105,0.76],[120,0.78],[135,0.86],[145,0.9],[152,0.95],[162,0.9],[173,0.82],[178,0.8],[185,0.9],[195,0.82],[205,0.83],[215,0.93],[225,0.95],[235,0.93],[250,0.9],[260,0.9],[272,0.94],[277,0.97],[285,0.92],[292,0.93],[298,1.05],[300,1.15]],
  HF5: [[0,0.025],[10,0.055],[20,0.085],[36,0.13],[50,0.18],[65,0.23],[85,0.29],[100,0.34],[115,0.39],[135,0.45],[150,0.5],[165,0.54],[185,0.59],[200,0.625],[215,0.66],[234,0.7],[250,0.75],[265,0.8],[280,0.84],[300,0.9]],
  HF10: [[0,0.025],[10,0.055],[20,0.085],[36,0.13],[50,0.18],[65,0.23],[85,0.29],[100,0.34],[115,0.385],[135,0.445],[150,0.49],[165,0.53],[185,0.58],[200,0.615],[215,0.65],[234,0.69],[250,0.74],[265,0.78],[280,0.82],[300,0.88]],
  HF15: [[0,0.02],[10,0.05],[20,0.08],[36,0.12],[50,0.17],[65,0.22],[85,0.28],[100,0.33],[115,0.38],[135,0.44],[150,0.49],[165,0.53],[185,0.58],[200,0.62],[215,0.66],[234,0.7],[250,0.755],[265,0.805],[280,0.855],[300,0.91]],
  HF20: [[0,0.02],[10,0.05],[20,0.08],[36,0.12],[50,0.17],[65,0.22],[85,0.28],[100,0.33],[115,0.38],[135,0.44],[150,0.49],[165,0.53],[185,0.58],[200,0.62],[215,0.66],[234,0.7],[250,0.76],[265,0.81],[280,0.86],[300,0.91]]
};
var gaitMu = {
  BLS: [[0,0],[15,0.005],[30,0.015],[50,0.03],[70,0.05],[90,0.075],[110,0.1],[130,0.13],[150,0.165],[170,0.205],[190,0.25],[210,0.3],[230,0.35],[250,0.4],[270,0.45],[285,0.49],[300,0.53]],
  ELM: [[0,0.02],[10,0.03],[20,0.05],[30,0.07],[40,0.1],[50,0.13],[60,0.18],[70,0.23],[80,0.28],[90,0.32],[100,0.36],[110,0.4],[120,0.45],[130,0.49],[140,0.52],[150,0.56],[160,0.6],[170,0.64],[180,0.67],[190,0.7],[200,0.74],[210,0.77],[220,0.8],[230,0.83],[240,0.85],[250,0.87],[260,0.89],[270,0.9],[280,0.915],[290,0.93],[300,0.94]],
  SSES: [[0,0.1],[5,0.13],[10,0.15],[20,0.17],[35,0.2],[50,0.23],[70,0.27],[90,0.31],[110,0.35],[130,0.39],[150,0.43],[170,0.46],[190,0.49],[210,0.52],[230,0.55],[250,0.57],[270,0.59],[285,0.61],[300,0.62]],
  SSFS: [[0,0.12],[20,0.12],[35,0.125],[50,0.14],[65,0.16],[80,0.18],[100,0.22],[120,0.26],[140,0.3],[160,0.34],[180,0.38],[200,0.41],[220,0.44],[240,0.47],[260,0.5],[280,0.53],[300,0.55]],
  MTF: [[0,0.03],[10,0.08],[20,0.12],[35,0.17],[50,0.21],[70,0.26],[90,0.31],[110,0.35],[130,0.39],[150,0.43],[170,0.47],[190,0.5],[210,0.53],[230,0.55],[250,0.57],[270,0.59],[285,0.6],[300,0.61]],
  IF: [[0,0.875],[100,0.875],[200,0.875],[300,0.875]],
  AF: [[0,0.27],[5,0.26],[10,0.25],[15,0.24],[20,0.225],[25,0.22],[30,0.24],[35,0.26],[40,0.25],[45,0.25],[50,0.27],[55,0.29],[62,0.3],[70,0.32],[78,0.34],[85,0.36],[92,0.39],[98,0.44],[105,0.44],[112,0.43],[120,0.43],[128,0.44],[135,0.45],[142,0.47],[150,0.48],[158,0.5],[165,0.51],[172,0.53],[180,0.55],[188,0.56],[195,0.55],[202,0.56],[210,0.57],[218,0.58],[226,0.58],[234,0.6],[242,0.61],[250,0.6],[258,0.59],[266,0.6],[274,0.61],[282,0.6],[290,0.62],[296,0.64],[300,0.67]],
  HF5: [[0,0.02],[25,0.065],[53,0.12],[75,0.18],[101,0.25],[125,0.31],[148,0.37],[175,0.42],[200,0.47],[225,0.51],[251,0.54],[275,0.56],[300,0.58]],
  HF10: [[0,0.02],[25,0.065],[53,0.12],[75,0.18],[101,0.25],[125,0.31],[148,0.365],[175,0.415],[200,0.46],[225,0.5],[251,0.53],[275,0.55],[300,0.57]],
  HF15: [[0,0.02],[25,0.07],[53,0.125],[75,0.19],[101,0.26],[125,0.32],[148,0.38],[175,0.43],[200,0.48],[225,0.515],[251,0.545],[275,0.575],[300,0.595]],
  HF20: [[0,0.02],[25,0.07],[53,0.125],[75,0.19],[101,0.26],[125,0.32],[148,0.38],[175,0.43],[200,0.48],[225,0.52],[251,0.55],[275,0.58],[300,0.6]]
};

// ---------- Electricity ----------
var elecGamma = {
  BLS: [[0,15],[10,20],[20,23],[30,26],[35,28],[37,60],[40,120],[44,190],[48,250],[52,300],[56,340]],
  ELM: [[0,70],[3,110],[6,150],[10,180],[14,200],[18,205],[22,210],[26,205],[30,210],[35,205],[40,200],[44,190],[48,175],[52,160],[56,152],[60,150],[64,145],[68,155],[72,148],[76,150],[80,145],[84,152],[88,148],[92,155],[96,175],[100,205],[104,240],[108,280],[111,310]],
  SSES: [[0,20],[4,40],[8,60],[14,82],[20,97],[26,106],[32,110],[38,110],[44,105],[50,100],[56,108],[62,118],[70,130],[76,137],[82,133],[88,125],[92,122],[98,135],[104,160],[110,180],[116,192],[122,197],[130,203],[136,207],[144,203],[152,198],[160,197],[168,200],[176,212],[182,222],[190,228],[198,230],[206,226],[214,232],[222,250],[228,262],[236,272],[244,275],[252,270],[260,267],[268,266],[276,272],[284,286],[292,295],[300,300]],
  SSFS: [[0,208],[50,208],[100,208],[150,208],[200,208],[250,208],[300,208]],
  MTF: [[0,30],[5,90],[10,150],[15,210],[20,260],[26,310],[44,420],[66,310],[72,275],[78,250],[84,225],[90,208],[96,200],[100,205],[104,220],[108,238],[112,258],[116,275],[120,282],[126,288],[134,292],[142,297],[150,306]],
  AF: [[0,140],[4,150],[8,148],[12,175],[15,205],[19,215],[24,205],[30,210],[40,210],[50,210],[62,205],[72,200],[82,197],[92,196],[100,197],[112,200],[126,207],[140,210],[155,208],[170,200],[181,195],[190,196],[200,200],[220,205],[240,210],[252,208],[265,200],[275,195],[281,185],[285,192],[290,180],[295,195],[298,170],[300,175]],
  HF5: [[0,16],[6,32],[12,49],[20,62],[26,70],[35,68],[45,70],[56,73],[66,78],[76,86],[86,86],[91,89],[100,97],[108,108],[116,119],[124,127],[131,129],[140,119],[148,111],[156,122],[166,140],[176,141],[186,140],[196,143],[206,151],[216,167],[226,181],[236,173],[246,165],[256,178],[266,192],[276,200],[286,194],[300,188]],
  HF10: [[0,15],[6,31],[12,47],[20,60],[26,67],[35,65],[45,67],[56,70],[66,75],[76,82],[86,82],[91,85],[100,93],[108,103],[116,114],[124,122],[131,124],[140,114],[148,106],[156,117],[166,134],[176,136],[186,135],[196,138],[206,146],[216,161],[226,176],[236,168],[246,160],[256,172],[266,186],[276,194],[286,188],[300,182]],
  HF15: [[0,15],[6,30],[12,46],[20,59],[26,65],[35,63],[45,64],[56,67],[66,71],[76,77],[86,76],[91,79],[100,86],[108,96],[116,106],[124,114],[131,116],[140,106],[148,98],[156,108],[166,124],[176,126],[186,125],[196,128],[206,136],[216,151],[226,165],[236,157],[246,148],[256,160],[266,172],[276,178],[286,173],[300,170]],
  HF20: [[0,14],[6,30],[12,45],[20,59],[26,62],[35,60],[45,59],[56,64],[66,70],[76,68],[86,65],[96,70],[106,78],[116,92],[124,105],[131,112],[140,103],[148,91],[156,93],[166,98],[176,104],[186,105],[196,107],[206,113],[216,132],[226,147],[236,140],[246,122],[256,119],[266,122],[276,122],[286,120],[295,130],[300,143]]
};
var elecZeta = {
  BLS: [[0,0.025],[13,0.033],[26,0.041],[33,0.051],[36,0.12],[38,0.32],[43,0.56]],
  ELM: [[0,0.12],[4,0.18],[8,0.23],[13,0.26],[18,0.29],[24,0.3],[30,0.32],[36,0.33],[41,0.32],[46,0.3],[51,0.28],[56,0.26],[61,0.245],[66,0.235],[71,0.24],[76,0.238],[81,0.225],[86,0.235],[91,0.25],[96,0.29],[101,0.34],[106,0.395],[111,0.47],[116,0.55],[118,0.6]],
  SSES: [[0,0.04],[8,0.1],[18,0.17],[25,0.215],[35,0.225],[45,0.21],[58,0.178],[68,0.2],[78,0.218],[88,0.21],[96,0.205],[106,0.245],[116,0.3],[126,0.36],[135,0.41],[141,0.42],[150,0.4],[158,0.36],[166,0.34],[176,0.37],[186,0.385],[196,0.38],[206,0.385],[216,0.43],[226,0.48],[234,0.53],[240,0.545],[248,0.53],[256,0.505],[266,0.49],[274,0.495],[281,0.52],[290,0.525],[300,0.532]],
  SSFS: [[0,0.403],[50,0.403],[100,0.403],[150,0.403],[200,0.403],[250,0.403],[300,0.403]],
  MTF: [[0,0.05],[10,0.25],[20,0.45],[26,0.56],[44,0.8],[61,0.56],[71,0.47],[81,0.39],[90,0.33],[96,0.31],[101,0.33],[106,0.37],[111,0.42],[116,0.47],[121,0.56]],
  AF: [[0,0.23],[4,0.245],[8,0.24],[12,0.3],[16,0.38],[20,0.4],[26,0.39],[40,0.39],[60,0.385],[75,0.375],[90,0.365],[100,0.37],[115,0.38],[130,0.39],[150,0.385],[165,0.375],[180,0.365],[195,0.37],[215,0.385],[235,0.39],[250,0.385],[265,0.375],[278,0.365],[284,0.36],[287,0.33],[292,0.325],[297,0.335],[300,0.3]],
  HF5: [[0,0.03],[6,0.06],[12,0.09],[20,0.115],[26,0.13],[35,0.125],[45,0.13],[56,0.135],[66,0.145],[76,0.16],[86,0.16],[91,0.165],[100,0.18],[108,0.2],[116,0.22],[124,0.235],[131,0.238],[140,0.22],[148,0.205],[156,0.225],[166,0.26],[176,0.262],[186,0.26],[196,0.265],[206,0.28],[216,0.31],[226,0.335],[236,0.32],[246,0.305],[256,0.33],[266,0.355],[276,0.37],[286,0.36],[300,0.345]],
  HF10: [[0,0.028],[6,0.058],[12,0.087],[20,0.11],[26,0.124],[35,0.12],[45,0.124],[56,0.13],[66,0.138],[76,0.152],[86,0.152],[91,0.157],[100,0.172],[108,0.19],[116,0.21],[124,0.225],[131,0.228],[140,0.21],[148,0.195],[156,0.215],[166,0.248],[176,0.252],[186,0.25],[196,0.255],[206,0.27],[216,0.298],[226,0.325],[236,0.31],[246,0.295],[256,0.318],[266,0.343],[276,0.36],[286,0.35],[300,0.338]],
  HF15: [[0,0.027],[6,0.056],[12,0.085],[20,0.108],[26,0.12],[35,0.116],[45,0.118],[56,0.123],[66,0.13],[76,0.142],[86,0.14],[91,0.146],[100,0.159],[108,0.176],[116,0.195],[124,0.21],[131,0.214],[140,0.196],[148,0.18],[156,0.198],[166,0.23],[176,0.233],[186,0.232],[196,0.237],[206,0.252],[216,0.28],[226,0.305],[236,0.29],[246,0.275],[256,0.296],[266,0.318],[276,0.33],[286,0.322],[300,0.318]],
  HF20: [[0,0.025],[6,0.055],[12,0.085],[20,0.11],[26,0.115],[35,0.112],[45,0.11],[56,0.118],[66,0.13],[76,0.125],[86,0.12],[96,0.13],[106,0.144],[116,0.17],[124,0.195],[131,0.208],[140,0.19],[148,0.168],[156,0.172],[166,0.182],[176,0.193],[186,0.195],[196,0.198],[206,0.21],[216,0.245],[226,0.272],[236,0.26],[246,0.225],[256,0.22],[266,0.225],[276,0.225],[286,0.223],[295,0.24],[300,0.265]]
};
var elecMu = {
  BLS: [[0,0.01],[5,0.015],[15,0.02],[30,0.02],[50,0.021],[70,0.02],[90,0.022],[100,0.022],[110,0.025],[130,0.026],[150,0.028],[175,0.029],[200,0.03],[225,0.03],[250,0.031],[275,0.032],[300,0.033]],
  ELM: [[0,0.11],[5,0.12],[10,0.13],[15,0.14],[20,0.13],[30,0.125],[40,0.12],[50,0.125],[60,0.12],[70,0.125],[80,0.12],[88,0.115],[95,0.125],[100,0.15],[105,0.19],[110,0.23],[115,0.27],[120,0.31],[125,0.34],[130,0.38],[135,0.41],[140,0.43]],
  SSES: [[0,0.03],[5,0.05],[10,0.07],[18,0.085],[25,0.09],[32,0.085],[40,0.09],[48,0.1],[55,0.115],[60,0.12],[66,0.115],[72,0.105],[80,0.1],[88,0.097],[95,0.1],[100,0.11],[106,0.13],[112,0.14],[120,0.145],[128,0.145],[136,0.14],[144,0.145],[152,0.155],[160,0.165],[168,0.175],[176,0.17],[184,0.155],[192,0.15],[200,0.155],[210,0.17],[220,0.18],[230,0.19],[238,0.195],[246,0.19],[255,0.185],[265,0.19],[275,0.2],[285,0.21],[292,0.215],[300,0.22]],
  SSFS: [[0,0.165],[50,0.165],[100,0.165],[150,0.165],[200,0.165],[250,0.165],[300,0.165]],
  MTF: [[0,0.05],[5,0.1],[10,0.15],[15,0.19],[20,0.23],[25,0.27],[30,0.295],[35,0.31],[40,0.315],[45,0.315],[50,0.31],[55,0.29],[60,0.26],[65,0.23],[70,0.2],[75,0.18],[80,0.165],[85,0.16],[90,0.155],[95,0.15],[100,0.16],[105,0.18],[110,0.195],[120,0.205],[130,0.21],[140,0.215],[150,0.22],[160,0.225],[175,0.235],[190,0.24],[205,0.24],[220,0.24],[235,0.245],[245,0.25],[255,0.265],[265,0.28],[275,0.29],[285,0.3],[300,0.31]],
  AF: [[0,0.115],[4,0.12],[8,0.14],[12,0.165],[16,0.17],[25,0.168],[35,0.165],[50,0.16],[70,0.165],[90,0.16],[110,0.162],[130,0.165],[150,0.165],[170,0.162],[190,0.158],[210,0.163],[230,0.165],[250,0.165],[270,0.162],[285,0.155],[292,0.15],[300,0.155]],
  HF5: [[0,0.015],[6,0.035],[12,0.05],[20,0.058],[28,0.063],[36,0.06],[44,0.063],[52,0.065],[60,0.07],[68,0.073],[76,0.076],[84,0.074],[92,0.075],[100,0.08],[108,0.09],[116,0.1],[124,0.107],[132,0.108],[140,0.1],[148,0.095],[156,0.103],[164,0.115],[172,0.118],[180,0.117],[188,0.117],[196,0.12],[206,0.126],[216,0.138],[226,0.148],[236,0.145],[246,0.135],[256,0.142],[266,0.153],[276,0.16],[286,0.155],[294,0.15],[300,0.148]],
  HF10: [[0,0.014],[6,0.034],[12,0.049],[20,0.056],[28,0.061],[36,0.058],[44,0.061],[52,0.063],[60,0.068],[68,0.07],[76,0.073],[84,0.071],[92,0.072],[100,0.077],[108,0.086],[116,0.096],[124,0.103],[132,0.104],[140,0.096],[148,0.091],[156,0.099],[164,0.11],[172,0.113],[180,0.112],[188,0.112],[196,0.115],[206,0.121],[216,0.133],[226,0.143],[236,0.14],[246,0.13],[256,0.137],[266,0.148],[276,0.155],[286,0.15],[294,0.146],[300,0.145]],
  HF15: [[0,0.013],[6,0.034],[12,0.048],[20,0.054],[28,0.058],[36,0.055],[44,0.057],[52,0.059],[60,0.063],[68,0.066],[76,0.067],[84,0.065],[92,0.066],[100,0.07],[108,0.078],[116,0.088],[124,0.095],[132,0.097],[140,0.09],[148,0.084],[156,0.09],[164,0.1],[172,0.104],[180,0.104],[188,0.104],[196,0.107],[206,0.113],[216,0.125],[226,0.135],[236,0.131],[246,0.12],[256,0.126],[266,0.137],[276,0.143],[286,0.138],[294,0.134],[300,0.135]],
  HF20: [[0,0.012],[6,0.033],[12,0.047],[20,0.051],[28,0.052],[36,0.05],[44,0.05],[52,0.053],[60,0.057],[68,0.06],[76,0.058],[84,0.056],[92,0.058],[100,0.062],[108,0.067],[116,0.075],[124,0.085],[132,0.09],[140,0.085],[148,0.075],[156,0.078],[164,0.082],[172,0.088],[180,0.09],[188,0.089],[196,0.09],[206,0.095],[216,0.108],[226,0.12],[236,0.115],[246,0.1],[256,0.098],[266,0.1],[276,0.1],[286,0.098],[294,0.102],[300,0.11]]
};

var panels = [
  [lorenzGamma, wormGamma, accelGamma, gaitGamma, elecGamma],
  [lorenzZeta, wormZeta, accelZeta, gaitZeta, elecZeta],
  [lorenzMu, wormMu, accelMu, gaitMu, elecMu]
];

// layout (px)
var colLeft = [55, 312, 568, 823, 1079];
var colWidth = [202, 200, 200, 201, 200];
var rowTop = [27, 232, 435];
var rowHeight = [185, 185, 186];
var smoothCols = [false, 0.2, false, 0.2, false];

var myChart = echarts.init(document.getElementById('chart'), null, { renderer: 'canvas' });

var grids = [], xAxes = [], yAxes = [], series = [];
var tickFont = { fontFamily: 'DejaVu Sans', fontSize: 16, color: '#111' };

for (var r = 0; r < 3; r++) {
  for (var c = 0; c < 5; c++) {
    var idx = r * 5 + c;
    grids.push({
      left: colLeft[c], top: rowTop[r], width: colWidth[c], height: rowHeight[r],
      show: true, borderColor: '#b4b4b4', borderWidth: 1, backgroundColor: '#fff'
    });
    (function (step) {
      xAxes.push({
        type: 'value', gridIndex: idx, min: 0, max: xMax[c], interval: step,
        axisLine: { show: true, lineStyle: { color: '#b4b4b4' } },
        axisTick: { show: true, length: 4, lineStyle: { color: '#555' } },
        splitLine: { show: false },
        axisLabel: Object.assign({
          show: r === 2, margin: 4,
          formatter: function (v) { return v % step === 0 ? String(v) : ''; }
        }, tickFont)
      });
    })(xStep[c]);
    (function (step, dig) {
      yAxes.push({
        type: 'value', gridIndex: idx, min: 0, max: yMax[r][c], interval: step,
        axisLine: { show: true, lineStyle: { color: '#b4b4b4' } },
        axisTick: { show: true, length: 4, lineStyle: { color: '#555' } },
        splitLine: { show: false },
        axisLabel: Object.assign({
          margin: 5,
          formatter: function (v) {
            var k = v / step;
            if (Math.abs(k - Math.round(k)) > 1e-6) return '';
            return v.toFixed(dig);
          }
        }, tickFont)
      });
    })(yStep[r][c], yDigits[r][c]);

    var panel = panels[r][c];
    models.forEach(function (m, mi) {
      if (!panel[m]) return;
      series.push({
        name: m, type: 'line', xAxisIndex: idx, yAxisIndex: idx,
        data: panel[m], showSymbol: false, symbol: 'none', clip: true,
        smooth: smoothCols[c],
        lineStyle: { width: 2.3, color: modelColors[mi] },
        itemStyle: { color: modelColors[mi] },
        emphasis: { disabled: true }
      });
    });
  }
}

// legends: six columns of two rows
var legendCols = [['BLS', 'ELM'], ['SSES', 'SSFS'], ['MTF', 'IF'], ['AF', 'HF5'], ['HF10', 'HF15'], ['HF20']];
var legendLeft = [308, 425, 548, 665, 778, 903];
var legends = legendCols.map(function (items, i) {
  return {
    data: items, left: legendLeft[i], top: 643, orient: 'vertical',
    icon: 'rect', itemWidth: 42, itemHeight: 14, itemGap: 3, padding: 0,
    selectedMode: false,
    textStyle: { fontFamily: 'DejaVu Sans', fontSize: 17, color: '#111', padding: [0, 0, 0, -1] }
  };
});

// annotation helpers
function arrow(x1, y1, x2, y2) {
  var dx = x2 - x1, dy = y2 - y1, len = Math.sqrt(dx * dx + dy * dy);
  var ux = dx / len, uy = dy / len, hl = 11, hw = 4.5;
  var bx = x2 - ux * hl, by = y2 - uy * hl;
  return [
    { type: 'line', z: 100, silent: true, shape: { x1: x1, y1: y1, x2: bx, y2: by }, style: { stroke: '#000', lineWidth: 2 } },
    { type: 'polygon', z: 100, silent: true, shape: { points: [[x2, y2], [bx - uy * hw, by + ux * hw], [bx + uy * hw, by - ux * hw]] }, style: { fill: '#000' } }
  ];
}
function label(x, y, text, font, align, rot) {
  return {
    type: 'text', z: 100, silent: true, x: x, y: y, rotation: rot || 0,
    style: { text: text, font: font, fill: '#111', textAlign: align || 'center', textVerticalAlign: 'middle' }
  };
}

var graphics = [];
datasetNames.forEach(function (name, c) {
  graphics.push(label(colLeft[c] + colWidth[c] / 2, 15, name, 'bold 16px "DejaVu Serif"'));
});
var yNameCenter = [128, 322, 525];
measureNames.forEach(function (g, r) {
  graphics.push({
    type: 'text', z: 100, silent: true, x: 20, y: yNameCenter[r], rotation: Math.PI / 2,
    style: {
      text: '{a|Error} {b|' + g + '}',
      rich: { a: { font: '17px "DejaVu Serif"', fill: '#111' }, b: { font: 'italic 19px "DejaVu Serif"', fill: '#111' } },
      textAlign: 'center', textVerticalAlign: 'middle'
    }
  });
});
graphics.push(label(235, 221, 'HF models are consistently the strongest performers', 'bold 15px "Liberation Serif"'));
graphics.push(label(30, 648, 'Curves near the bottom-right of each', 'bold 15px "Liberation Serif"', 'left'));
graphics.push(label(30, 669, 'plot have lower error over future steps', 'bold 15px "Liberation Serif"', 'left'));
graphics.push(label(1157, 656, 'BLS makes occasional large mistakes', '19px "Liberation Serif"'));
graphics.push(label(1157, 678, 'that sharply increase unbounded', '19px "Liberation Serif"'));
graphics.push(label(1157, 700, 'measures ζ and γ; with an upper', '19px "Liberation Serif"'));

var arrows = [
  [230, 213, 191, 160], [182, 227, 203, 310], [181, 647, 166, 598],
  [1052, 645, 930, 371], [1048, 645, 986, 563], [1133, 643, 1098, 408], [1163, 641, 1208, 584]
];
arrows.forEach(function (a) { graphics = graphics.concat(arrow(a[0], a[1], a[2], a[3])); });

var option = {
  animation: false,
  backgroundColor: '#fff',
  grid: grids,
  xAxis: xAxes,
  yAxis: yAxes,
  legend: legends,
  series: series,
  graphic: { elements: graphics }
};
myChart.setOption(option, true);
</script>
</body>
</html>
